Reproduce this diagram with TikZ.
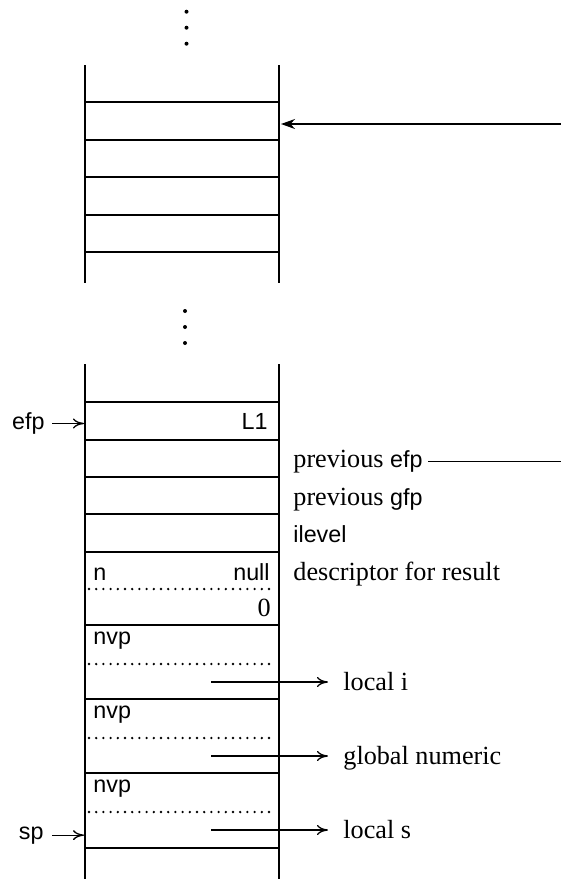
\documentclass[tikz,border=0pt]{standalone}
\usepackage{fontspec}
\setmainfont{Liberation Serif}
\setsansfont{Liberation Sans}[Scale=0.89]
\usetikzlibrary{positioning,arrows.meta}

\begin{document}
\begin{tikzpicture}[x=0.5pt,y=-0.5pt,
  every node/.style={font=\fontsize{13.1}{15}\selectfont,inner sep=0pt},
  cellline/.style={line width=0.8pt},
  slotline/.style={line width=1.3pt,line cap=round,dash pattern=on 0pt off 3.6pt},
  ptr/.style={-{To[length=5.5pt,width=5pt]},line width=0.65pt},
  vdot/.style={circle,fill,inner sep=0pt,minimum size=2pt}]
  \useasboundingbox (0,0) rectangle (561,879);
  \coordinate (stackL) at (84,0);
  \coordinate (edgeR) at (561,0);

  % dots above the old frame
  \foreach \y in {11.7,27.7,43.7} \node[vdot] at (186.5,\y) {};
  % old frame
  \draw[cellline] (85,65) -- (85,283);
  \draw[cellline] (279,65) -- (279,283);
  \foreach \y in {102,140,177,215,252} \draw[cellline] (85,\y) -- (279,\y);
  \coordinate (oldfp) at (281,124);
  \draw[-{Stealth[length=7pt,width=5pt]},line width=0.75pt] (oldfp -| edgeR) -- (oldfp);

  % dots between the frames
  \foreach \y in {311,327,343} \node[vdot] at (185,\y) {};
  % current frame
  \draw[cellline] (85,364) -- (85,879);
  \draw[cellline] (279,364) -- (279,879);
  \foreach \y in {402,440,477,514,552,625,699,773,848} \draw[cellline] (85,\y) -- (279,\y);
  \foreach \y in {589,664,738,812} \draw[slotline] (89,\y) -- (274,\y);

  % frame marker
  \node[anchor=base east] (efp) at (45,429.5) {\sffamily efp};
  \draw[ptr,shorten <=3.5pt] (efp.east) -- (efp.east -| stackL);
  \node[anchor=base east] (lab) at (268,429.5) {\sffamily L1};
  \node[anchor=base west] (prevefp) at (293,467.5) {previous \textsf{efp}};
  \draw[line width=0.65pt,shorten <=2.75pt] (prevefp.east) -- (prevefp.east -| edgeR);
  \node[anchor=base west] (prevgfp) at (293,505) {previous \textsf{gfp}};
  \node[anchor=base west] (ilevel) at (293,542.5) {\sffamily ilevel};

  % result descriptor
  \node[anchor=base west] (resn) at (93,580) {\sffamily n};
  \node[anchor=base east] (resnull) at (270,580) {\sffamily null};
  \node[anchor=base west] (resdesc) at (293,580) {descriptor for result};
  \node[anchor=base east] (resv) at (271,616.5) {0};

  % name/value pairs
  \foreach \top/\nm/\txt in {625/li/local i,699/gn/global numeric,773/ls/local s} {
    \node[anchor=base west] (nvp-\nm) at (93,\top+19.5) {\sffamily nvp};
    \coordinate (val-\nm) at (211,\top+57);
    \node[anchor=base west] (var-\nm) at (343,\top+65.5) {\txt};
    \draw[ptr,shorten >=7.5pt] (val-\nm) -- (val-\nm -| var-\nm.west);
  }

  % stack pointer
  \node[anchor=base east] (sp) at (44,839) {\sffamily sp};
  \draw[ptr,shorten <=4pt] (sp.east) -- (sp.east -| stackL);
\end{tikzpicture}
\end{document}
